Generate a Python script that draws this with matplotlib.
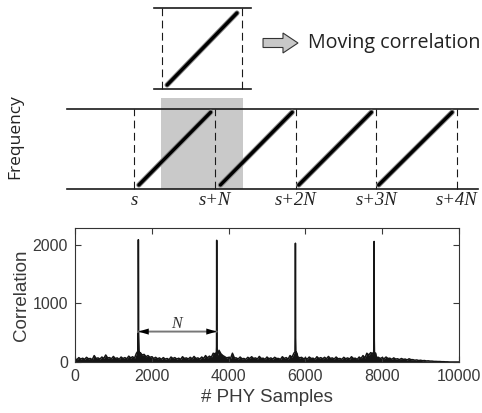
import matplotlib
matplotlib.use("Agg")
import matplotlib.pyplot as plt
import matplotlib.patches as mpatches
import matplotlib.patheffects as pe
import numpy as np

# ---- correlation trace ----
# noise floor, one value every 50 samples from 0 to 10000
noise_x = list(range(0, 10001, 50))
noise_y = [55, 40, 75, 50, 65, 45, 80, 55, 60, 40, 110, 60, 70, 50, 85, 60, 120, 70, 75, 55,
           95, 60, 70, 45, 85, 60, 75, 55, 100, 70, 90, 65, 150, 130, 160, 120, 130, 90, 110, 80,
           90, 60, 80, 55, 70, 45, 75, 50, 60, 40, 85, 60, 75, 50, 65, 45, 90, 60, 70, 50,
           80, 55, 95, 60, 70, 50, 85, 60, 110, 70, 100, 80, 150, 120, 180, 200, 140, 110, 90, 70,
           80, 60, 150, 70, 70, 50, 85, 55, 60, 45, 80, 60, 90, 60, 70, 50, 95, 60, 65, 45,
           85, 55, 70, 50, 80, 60, 60, 45, 90, 60, 75, 50, 110, 80, 150, 140, 90, 70, 80, 55,
           70, 50, 85, 60, 65, 45, 90, 60, 75, 55, 80, 55, 95, 60, 70, 50, 85, 55, 60, 45,
           80, 55, 70, 50, 90, 60, 65, 45, 85, 60, 110, 70, 150, 120, 160, 140, 120, 80, 80, 60,
           75, 55, 85, 60, 65, 45, 70, 50, 55, 40, 60, 45, 50, 35, 55, 40, 40, 30, 35, 25,
           30, 22, 25, 18, 20, 15, 15, 10, 10, 8, 8, 5, 5, 3, 3, 0, 0, 0, 0, 0,
           0]

# correlation peaks
peak_x = [1650, 3690, 5740, 7790]
peak_top = [2090, 2080, 2030, 2060]
peak_skirt = [480, 260, 430, 380]

# ---- schematic ----
bounds = [0, 1, 2, 3, 4]
bound_labels = ["s", "s+N", "s+2N", "s+3N", "s+4N"]
ramp_start = [0.06, 1.07, 2.04, 3.03]
ramp_end = [0.95, 1.96, 2.94, 3.94]

# build the trace
xs = list(noise_x)
ys = list(noise_y)
for c, h, sk in zip(peak_x, peak_top, peak_skirt):
    xs += [c - 40, c - 12, c - 4, c, c + 4, c + 12, c + 40]
    ys += [150, sk * 0.4, sk, h, sk, sk * 0.4, 150]
order = np.argsort(xs, kind="stable")
xs = np.array(xs)[order]
ys = np.array(ys)[order]

fig = plt.figure(figsize=(4.82, 4.13), dpi=100)

# ---------------- schematic axes ----------------
sch = fig.add_axes([0, 1 - 210 / 413, 1, 210 / 413])
sch.set_xlim(-134 / 80.75, (482 - 134) / 80.75)
sch.set_ylim(-21 / 80, 189 / 80)
sch.axis("off")

line_c = "#1a1a1a"
ramp_fx = [pe.Stroke(linewidth=3.8, foreground="#8a8a8a"), pe.Normal()]

# moving window shading
sch.add_patch(mpatches.Rectangle((0.334, 0), 1.35 - 0.334, 1.14,
                                 facecolor="#c9c9c9", edgecolor="none", zorder=0))

# long time track
sch.plot([-0.83, 4.26], [1, 1], color=line_c, lw=1.2)
sch.plot([-0.83, 4.26], [0, 0], color=line_c, lw=1.2)
for b, lab in zip(bounds, bound_labels):
    sch.plot([b, b], [0, 1], color=line_c, lw=0.8, linestyle=(0, (7, 4)))
    sch.text(b, -0.14, lab, ha="center", va="center", fontsize=13.5,
             style="italic", family="Liberation Serif", color="#222222")
for a, b in zip(ramp_start, ramp_end):
    sch.plot([a, b], [0.05, 0.96], color="black", lw=2.4,
             solid_capstyle="round", path_effects=ramp_fx)

# magnified window on top
sch.plot([0.248, 1.45], [2.26, 2.26], color=line_c, lw=1.2)
sch.plot([0.248, 1.45], [1.25, 1.25], color=line_c, lw=1.2)
for b in [0.347, 1.337]:
    sch.plot([b, b], [1.25, 2.26], color=line_c, lw=0.8, linestyle=(0, (7, 4)))
sch.plot([0.41, 1.275], [1.30, 2.20], color="black", lw=2.4,
         solid_capstyle="round", path_effects=ramp_fx)

sch.add_patch(mpatches.FancyArrow(1.598, 1.825, 0.433, 0, width=0.1125,
                                  head_width=0.25, head_length=0.186,
                                  length_includes_head=True,
                                  facecolor="#c8c8c8", edgecolor="#333333", lw=0.8))
sch.text(2.155, 1.825, "Moving correlation", ha="left", va="center",
         fontsize=14.2, family="Open Sans", color="#222222")
sch.text(-1.47, (189 - 137) / 80, "Frequency", rotation=90, ha="center",
         va="center", fontsize=12.5, family="Open Sans", color="#222222")

# ---------------- correlation plot ----------------
ax = fig.add_axes([75 / 482, 51 / 413, 384 / 482, 134 / 413])
ax.fill_between(xs, 0, ys, color="#151515", lw=0)
ax.plot(xs, ys, color="#151515", lw=1.1)
ax.set_xlim(0, 10000)
ax.set_ylim(0, 2290)
ax.set_xticks([0, 2000, 4000, 6000, 8000, 10000])
ax.set_yticks([0, 1000, 2000])
ax.tick_params(direction="in", top=True, right=True, length=4, width=0.8,
               pad=5, labelsize=11.5, colors="#3a3a3a")
for lbl in ax.get_xticklabels() + ax.get_yticklabels():
    lbl.set_family("Liberation Sans")
for sp in ax.spines.values():
    sp.set_color("#333333")
    sp.set_linewidth(0.8)
ax.set_xlabel("# PHY Samples", fontsize=13.5, family="Liberation Sans",
              color="#3a3a3a", labelpad=4)
ax.set_ylabel("Correlation", fontsize=13.5, family="Liberation Sans",
              color="#3a3a3a", labelpad=2)

# N span: grey shaft with black heads
ax.annotate("", xy=(peak_x[0], 520), xytext=(peak_x[1], 520),
            arrowprops=dict(arrowstyle="-", color="#777777", lw=1.4,
                            shrinkA=0, shrinkB=0))
ax.annotate("", xy=(peak_x[0], 520), xytext=(peak_x[1], 520),
            arrowprops=dict(arrowstyle="<|-|>,head_length=0.75,head_width=0.22",
                            facecolor="black", edgecolor="none", lw=0,
                            shrinkA=0, shrinkB=0))
ax.text((peak_x[0] + peak_x[1]) / 2 - 30, 650, "N", ha="center", va="center",
        fontsize=11.5, style="italic", family="Liberation Serif", color="#333333")

fig.savefig("out.png", dpi=100)
